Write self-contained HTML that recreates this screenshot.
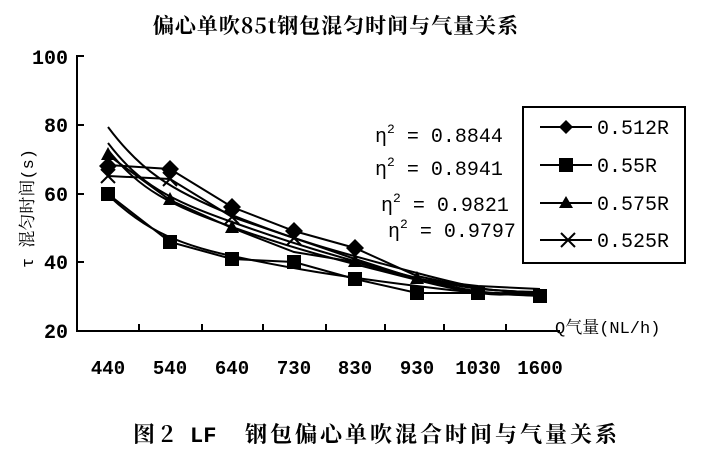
<!DOCTYPE html>
<html><head><meta charset="utf-8"><style>body{margin:0;background:#fff}</style></head><body>
<svg width="709" height="450" xmlns="http://www.w3.org/2000/svg" font-family="Liberation Mono, 'Noto Serif CJK SC', monospace" fill="#000">
<rect width="709" height="450" fill="#fff"/>
<text x="336" y="33" font-size="21" letter-spacing="1" text-anchor="middle" font-family="'Noto Serif CJK SC', serif" font-weight="bold">偏心单吹85t钢包混匀时间与气量关系</text>
<g stroke="#000" stroke-width="2" fill="none">
<polyline points="84,56 77,56 77,331 560,331"/>
<line x1="77" y1="125" x2="84" y2="125"/><line x1="77" y1="194" x2="84" y2="194"/><line x1="77" y1="262" x2="84" y2="262"/>
<line x1="139" y1="331" x2="139" y2="324"/><line x1="202" y1="331" x2="202" y2="324"/><line x1="263" y1="331" x2="263" y2="324"/><line x1="326" y1="331" x2="326" y2="324"/><line x1="385" y1="331" x2="385" y2="324"/><line x1="444" y1="331" x2="444" y2="324"/><line x1="506" y1="331" x2="506" y2="324"/>
</g>
<g font-size="20" font-weight="bold" text-anchor="end"><text x="68" y="64">100</text><text x="68" y="132">80</text><text x="68" y="201">60</text><text x="68" y="269">40</text><text x="68" y="338">20</text></g>
<g font-size="19" font-weight="bold" text-anchor="middle"><text x="108" y="374">440</text><text x="170" y="374">540</text><text x="232" y="374">640</text><text x="294" y="374">730</text><text x="355" y="374">830</text><text x="417" y="374">930</text><text x="478" y="374">1030</text><text x="540" y="374">1600</text></g>
<text x="555" y="333" font-size="17" font-family="Liberation Mono, 'Noto Serif CJK SC', serif">Q气量(NL/h)</text>
<text transform="translate(33,268) rotate(-90)" font-size="17" font-family="Liberation Mono, 'Noto Serif CJK SC', serif">τ 混匀时间(s)</text>
<g fill="none" stroke="#000" stroke-width="2">
<polyline points="108,165 170,169 232,207 294,231 355,248 417,276 478,289 540,293"/>
<polyline points="108,194 170,242 232,259 294,262 355,279 417,293 478,293 540,296"/>
<polyline points="108,155 170,200 232,228 294,252 355,262 417,279 478,286 540,289"/>
<polyline points="108,176 170,179 232,217 294,238 355,259 417,279 478,289 540,293"/>
<path d="M108,127 C140,170 170,190 232,215 S330,250 417,273 S500,290 540,292"/>
<path d="M108,143 C140,185 170,200 232,222 S330,255 417,278 S500,290 540,293"/>
<path d="M108,150 C140,190 170,205 232,227 S330,258 417,280 S500,292 540,294"/>
<path d="M108,195 C140,225 170,243 232,256 S330,275 417,286 S500,293 540,296"/>
<path d="M101,169 l14,14 M115,169 l-14,14 M163,172 l14,14 M177,172 l-14,14 M225,210 l14,14 M239,210 l-14,14 M287,231 l14,14 M301,231 l-14,14"/>
</g>
<g>
<path d="M108,157 l9,9 -9,9 -9,-9z M170,160 l9,9 -9,9 -9,-9z M232,198 l9,9 -9,9 -9,-9z M294,222 l9,9 -9,9 -9,-9z M355,239 l9,9 -9,9 -9,-9z"/>
<rect x="101" y="187" width="14" height="14"/><rect x="163" y="235" width="14" height="14"/><rect x="225" y="252" width="14" height="14"/><rect x="287" y="255" width="14" height="14"/><rect x="348" y="272" width="14" height="14"/><rect x="410" y="286" width="14" height="14"/><rect x="471" y="286" width="14" height="14"/><rect x="533" y="289" width="14" height="14"/>
<path d="M108,147 l7,13 h-14z M170,192 l7,13 h-14z M232,220 l7,13 h-14z M355,254 l7,13 h-14z M417,271 l7,13 h-14z"/>
</g>
<g font-size="20"><text x="375" y="142">η<tspan font-size="13" dy="-9">2</tspan><tspan dy="9"> = 0.8844</tspan></text>
<text x="375" y="175">η<tspan font-size="13" dy="-9">2</tspan><tspan dy="9"> = 0.8941</tspan></text>
<text x="381" y="211">η<tspan font-size="13" dy="-9">2</tspan><tspan dy="9"> = 0.9821</tspan></text>
<text x="388" y="237">η<tspan font-size="13" dy="-9">2</tspan><tspan dy="9"> = 0.9797</tspan></text></g>
<rect x="523" y="107" width="162" height="156" fill="#fff" stroke="#000" stroke-width="2"/>
<g stroke="#000" stroke-width="2"><line x1="540" y1="127" x2="592" y2="127"/><line x1="540" y1="165" x2="592" y2="165"/><line x1="540" y1="203" x2="592" y2="203"/><line x1="540" y1="240" x2="592" y2="240"/>
<path d="M561,233 l14,14 M575,233 l-14,14"/></g>
<path d="M566,120 l7,7 -7,7 -7,-7z"/><rect x="559" y="158" width="14" height="14"/><path d="M566,196 l7,12 h-14z"/>
<g font-size="20"><text x="597" y="134">0.512R</text><text x="597" y="172">0.55R</text><text x="597" y="210">0.575R</text><text x="597" y="247">0.525R</text></g>
<g font-size="22" font-weight="bold" font-family="'Noto Serif CJK SC', serif"><text x="133" y="442">图 2</text><text x="190" y="442" font-family="Liberation Mono, monospace">LF</text><text x="245" y="442" letter-spacing="3">钢包偏心单吹混合时间与气量关系</text></g>
</svg>
</body></html>
